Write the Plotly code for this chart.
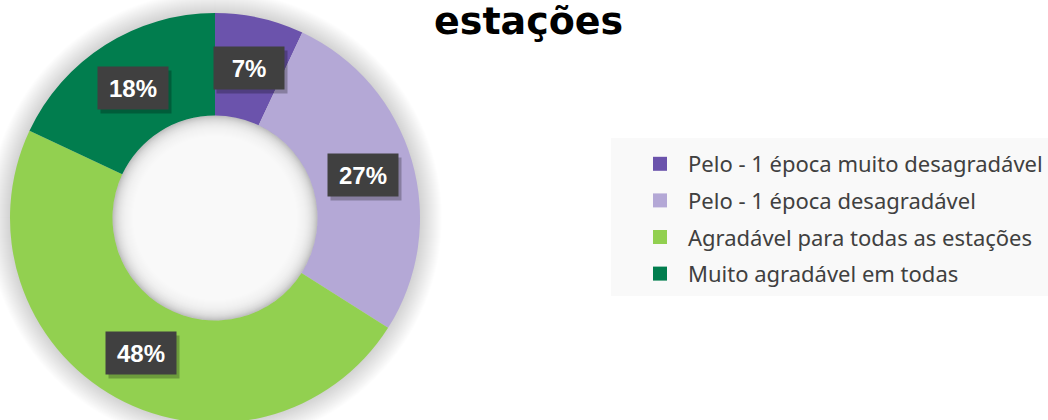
import math
import plotly.graph_objects as go

categories = ["Pelo - 1 época muito desagradável", "Pelo - 1 época desagradável",
              "Agradável para todas as estações", "Muito agradável em todas"]
values = [7, 27, 48, 18]
colors = ["#6B53AC", "#B4A8D6", "#92D050", "#017D4E"]
title_text = "estações"

W, H = 1048, 426              # page is 420 tall; bottom of the ring lies just below the fold
cx, cy, R = 215, 218, 205     # pixel centre / radius
HOLE = 0.5


def px2x(x):
    return x / W


def px2y(y):
    return (H - y) / H


fig = go.Figure()
fig.add_trace(go.Pie(
    labels=categories, values=values, hole=HOLE, sort=False,
    direction="clockwise", rotation=0, textinfo="none", showlegend=False,
    marker=dict(colors=colors, line=dict(width=0)),
    domain=dict(x=[px2x(cx - R), px2x(cx + R)], y=[px2y(cy + R), px2y(cy - R)]),
    hoverinfo="label+percent",
))
# legend entries
for name, col in zip(categories, colors):
    fig.add_trace(go.Scatter(x=[None], y=[None], mode="markers", name=name, legendgroup=name,
                             marker=dict(symbol="square", size=14, color=col), hoverinfo="skip"))


def circle(r, fill, layer):
    return dict(type="circle", xref="paper", yref="paper", layer=layer,
                x0=px2x(cx - r), x1=px2x(cx + r), y0=px2y(cy + r), y1=px2y(cy - r),
                fillcolor=fill, line=dict(width=0))


shapes = []
# legend background box
shapes.append(dict(type="rect", xref="paper", yref="paper", layer="below",
                   x0=px2x(611), x1=px2x(1060), y0=px2y(296), y1=px2y(138),
                   fillcolor="#F9F9F9", line=dict(width=0)))
# soft outer glow
for k in range(22, 0, -1):
    shapes.append(circle(R + k, "rgba(0,0,0,0.0065)", "below"))
# inner hole shadow
rh = R * HOLE
shapes.append(circle(rh, "rgba(0,0,0,0.09)", "above"))
for k in range(1, 22):
    shapes.append(circle(rh - k, "rgba(255,255,255,0.13)", "above"))

annotations = []
total = sum(values)
cum = 0
rl = R * (1 + HOLE) / 2
for v in values:
    mid = (cum + v / 2) / total * 2 * math.pi
    cum += v
    lx = cx + rl * math.sin(mid)
    ly = cy - rl * math.cos(mid)
    txt = f"<b>{round(v / total * 100)}%</b>"
    common = dict(x=px2x(lx), y=px2y(ly), xref="paper", yref="paper",
                  showarrow=False, xanchor="center", yanchor="middle", width=68, height=40)
    annotations.append(dict(common, text=" ", xshift=3, yshift=-4,
                            font=dict(size=24, color="rgba(0,0,0,0)", family="Arial"),
                            bgcolor="rgba(0,0,0,0.25)"))
    annotations.append(dict(common, text=txt, font=dict(size=24, color="white", family="Arial"),
                            bgcolor="#404040"))

annotations.append(dict(x=px2x(528), y=px2y(21), xref="paper", yref="paper",
                        text=f"<b>{title_text}</b>", showarrow=False, xanchor="center", yanchor="middle",
                        font=dict(size=38, color="black", family="DejaVu Sans")))

fig.update_layout(
    width=W, height=H, margin=dict(l=0, r=0, t=0, b=0),
    paper_bgcolor="white", plot_bgcolor="white",
    showlegend=True,
    xaxis=dict(visible=False), yaxis=dict(visible=False),
    legend=dict(x=px2x(632), y=px2y(143), xanchor="left", yanchor="top",
                bgcolor="rgba(0,0,0,0)", font=dict(size=22, color="#404040", family="Noto Sans"),
                itemwidth=46, traceorder="grouped", tracegroupgap=5, itemclick=False),
    shapes=shapes, annotations=annotations,
)

fig.write_html("out.html", config={"displayModeBar": False},
               post_script="document.body.style.margin='0px';document.body.style.overflow='hidden';")
